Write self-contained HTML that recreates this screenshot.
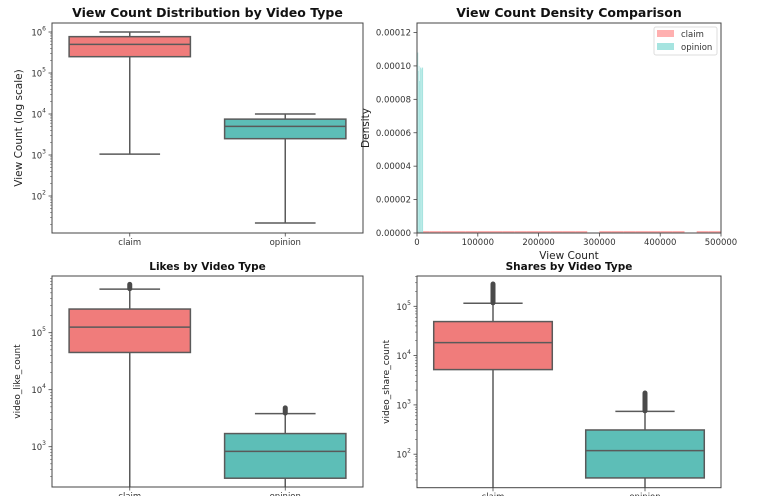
<!DOCTYPE html>
<html><head><meta charset="utf-8"><style>
html,body{margin:0;padding:0;background:#fff;overflow:hidden;width:768px;height:496px;}
svg{display:block;font-family:"DejaVu Sans","Liberation Sans",sans-serif;overflow:hidden;}
</style></head><body>
<svg id="fig" width="768" height="496" viewBox="0 0 768 496" xmlns="http://www.w3.org/2000/svg"></svg>
<script>
// ---------- data ----------
const categories = ["claim", "opinion"];
// box stats: [lowWhisker, Q1, median, Q3, highWhisker, outlierMax]
const viewClaim = [1050, 250000, 500000, 770000, 1000000, null];
const viewOpinion = [22, 2500, 5000, 7500, 10000, null];
const likeClaim = [50, 45000, 125000, 260000, 580000, 720000];
const likeOpinion = [100, 280, 830, 1700, 3800, 4900];
const shareClaim = [10, 5200, 18300, 49000, 115000, 290000];
const shareOpinion = [10, 33, 118, 310, 740, 1780];
const densityBinWidthOpinion = 1000;
const densityOpinion = [0.000088,0.000108,0.000097,0.0001,0.000091,0.000099,0.000099,0.000098,0.000099,0.000099];
const densityBinWidthClaim = 20000;
const densityClaim = [0.0000012,0.0000012,0.0000012,0.0000012,0.0000012,0.0000012,0.0000012,0.0000012,0.0000012,0.0000012,0.0000012,0.0000012,0.0000012,0.0000012,0,0.0000012,0.0000012,0.0000012,0.0000012,0.0000012,0.0000012,0.0000012,0,0.0000012,0.0000012];
const densityTicks = ["0.00000","0.00002","0.00004","0.00006","0.00008","0.00010","0.00012"];
const viewTicksX = ["0","100000","200000","300000","400000","500000"];

const NS = "http://www.w3.org/2000/svg";
const svg = document.getElementById("fig");
function mk(tag, attrs, parent, text){
  const e = document.createElementNS(NS, tag);
  for (const k in attrs) e.setAttribute(k, attrs[k]);
  if (text !== undefined) e.textContent = text;
  (parent || svg).appendChild(e);
  return e;
}
const CLAIM = "#F07C7B", OPIN = "#5DBEB7", EDGE = "#5a5a5a";
const TICKFS = 8.5;

function logAxis(px){
  return v => px.refY - px.perDecade * (Math.log10(v) - px.refExp);
}

function boxPanel(cfg){
  const g = mk("g", {});
  
  
  const {x0,x1,y0,y1} = cfg;
  const Y = logAxis(cfg);
  const clipId = cfg.name + "-clip";
  const cp = mk("clipPath", {id: clipId}, g);
  mk("rect", {x:x0, y:y0, width:x1-x0, height:y1-y0}, cp);
  const plot = mk("g", {"clip-path": "url(#"+clipId+")"}, g);
  const w = x1 - x0;
  const xc = i => x0 + w * (0.25 + 0.5 * i);
  const bw = w * 0.39;
  [cfg.claim, cfg.opinion].forEach((s, i) => {
    const c = xc(i);
    const bg = mk("g", {}, plot);
    
    
    mk("line", {x1:c, x2:c, y1:Y(s[3]), y2:Y(s[4]), stroke:EDGE, "stroke-width":1.5}, bg);
    mk("line", {x1:c, x2:c, y1:Y(s[1]), y2:Y(s[0]), stroke:EDGE, "stroke-width":1.5}, bg);
    mk("line", {x1:c-bw/4, x2:c+bw/4, y1:Y(s[4]), y2:Y(s[4]), stroke:EDGE, "stroke-width":1.5}, bg);
    mk("line", {x1:c-bw/4, x2:c+bw/4, y1:Y(s[0]), y2:Y(s[0]), stroke:EDGE, "stroke-width":1.5}, bg);
    mk("rect", {x:c-bw/2, y:Y(s[3]), width:bw, height:Y(s[1])-Y(s[3]), fill:i?OPIN:CLAIM, stroke:EDGE, "stroke-width":1.5}, bg);
    mk("line", {x1:c-bw/2, x2:c+bw/2, y1:Y(s[2]), y2:Y(s[2]), stroke:EDGE, "stroke-width":1.5}, bg);
    if (s[5]) {
      const o = mk("rect", {x:c-2.5, y:Y(s[5])-2, width:5, height:Y(s[4])-Y(s[5])+4, rx:2.5, fill:"#4a4a4a"}, bg);
      
      
    }
  });
  mk("rect", {x:x0, y:y0, width:w, height:y1-y0, fill:"none", stroke:"#444", "stroke-width":1}, g);
  const loE = Math.floor(cfg.refExp - (y1 - cfg.refY)/cfg.perDecade);
  const hiE = Math.ceil(cfg.refExp + (cfg.refY - y0)/cfg.perDecade);
  for (let e = loE; e <= hiE; e++){
    for (let m = 1; m < 10; m++){
      const y = Y(m * Math.pow(10, e));
      if (y < y0 + 0.5 || y > y1 - 0.5) continue;
      mk("line", {x1:x0, x2:x0-(m===1?3.5:2), y1:y, y2:y, stroke:"#444", "stroke-width":m===1?0.8:0.5}, g);
      if (m === 1){
        const t = mk("text", {x:x0-6, y:y+3.5, "font-size":TICKFS, fill:"#333", "text-anchor":"end"}, g);
        
        
        mk("tspan", {}, t, "10");
        mk("tspan", {"font-size":6, dy:-5}, t, String(e));
      }
    }
  }
  categories.forEach((c, i) => {
    mk("line", {x1:xc(i), x2:xc(i), y1:y1, y2:y1+3.5, stroke:"#444", "stroke-width":0.8}, g);
    const t = mk("text", {x:xc(i), y:y1+12, "font-size":TICKFS, fill:"#333", "text-anchor":"middle"}, g, c);
    
    
  });
  const tt = mk("text", {x:(x0+x1)/2, y:y0-6, "font-size":cfg.titleSize, "font-weight":"bold", fill:"#111", "text-anchor":"middle"}, g, cfg.title);
  
  
  const yl = mk("text", {x:cfg.ylx, y:(y0+y1)/2, "font-size":cfg.ylSize, fill:"#222", "text-anchor":"middle", transform:"rotate(-90 "+cfg.ylx+" "+((y0+y1)/2)+")"}, g, cfg.ylabel);
  
  
}

boxPanel({name:"view-boxplot", x0:52, x1:363, y0:23, y1:233, refY:32, refExp:6, perDecade:41,
  claim:viewClaim, opinion:viewOpinion, title:"View Count Distribution by Video Type", titleSize:12.5,
  ylabel:"View Count (log scale)", ylx:22, ylSize:10.5});
boxPanel({name:"likes-boxplot", x0:52, x1:363, y0:276, y1:487, refY:332.7, refExp:5, perDecade:57,
  claim:likeClaim, opinion:likeOpinion, title:"Likes by Video Type", titleSize:10.5,
  ylabel:"video_like_count", ylx:20, ylSize:9});
boxPanel({name:"shares-boxplot", x0:417, x1:721, y0:276, y1:487.7, refY:306.3, refExp:5, perDecade:49.3,
  claim:shareClaim, opinion:shareOpinion, title:"Shares by Video Type", titleSize:10.5,
  ylabel:"video_share_count", ylx:389, ylSize:9});

// ---------- density histogram ----------
(function(){
  const g = mk("g", {});
  
  
  const x0=417, x1=721, y0=23, y1=233;
  const X = v => x0 + (v/500000)*(x1-x0);
  const Y = v => y1 - (v/0.000120)*(y1-32.5);
  densityClaim.forEach((d, i) => {
    if (!d) return;
    const r = mk("rect", {x:X(i*densityBinWidthClaim), y:Y(d), width:X(densityBinWidthClaim)-x0, height:y1-Y(d), fill:"#FFB0B0"}, g);
    
    
  });
  densityOpinion.forEach((d, i) => {
    const r = mk("rect", {x:X(i*densityBinWidthOpinion), y:Y(d), width:X(densityBinWidthOpinion)-x0, height:y1-Y(d), fill:"#A6E4E0"}, g);
    
    
  });
  mk("rect", {x:x0, y:y0, width:x1-x0, height:y1-y0, fill:"none", stroke:"#444", "stroke-width":1}, g);
  densityTicks.forEach((t, i) => {
    const y = Y(parseFloat(t));
    mk("line", {x1:x0, x2:x0-3.5, y1:y, y2:y, stroke:"#444", "stroke-width":0.8}, g);
    const e = mk("text", {x:x0-6, y:y+3, "font-size":TICKFS, fill:"#333", "text-anchor":"end"}, g, t);
    
    
  });
  viewTicksX.forEach(t => {
    const x = X(parseFloat(t));
    mk("line", {x1:x, x2:x, y1:y1, y2:y1+3.5, stroke:"#444", "stroke-width":0.8}, g);
    const e = mk("text", {x:x, y:y1+12, "font-size":TICKFS, fill:"#333", "text-anchor":"middle"}, g, t);
    
    
  });
  const tt = mk("text", {x:(x0+x1)/2, y:y0-6, "font-size":12.5, "font-weight":"bold", fill:"#111", "text-anchor":"middle"}, g, "View Count Density Comparison");
  
  
  const xl = mk("text", {x:(x0+x1)/2, y:259, "font-size":10.5, fill:"#222", "text-anchor":"middle"}, g, "View Count");
  
  
  const yl = mk("text", {x:369, y:128, "font-size":10.5, fill:"#222", "text-anchor":"middle", transform:"rotate(-90 369 128)"}, g, "Density");
  
  
  const lg = mk("g", {}, g);
  
  
  mk("rect", {x:654, y:27, width:63, height:28, fill:"#fff", stroke:"#ddd", rx:2}, lg);
  mk("rect", {x:657, y:30, width:17, height:7, fill:"#FFB0B0"}, lg);
  mk("rect", {x:657, y:43, width:17, height:7, fill:"#A6E4E0"}, lg);
  const l1 = mk("text", {x:681, y:37, "font-size":8.5, fill:"#333"}, lg, "claim");
  
  
  const l2 = mk("text", {x:681, y:50, "font-size":8.5, fill:"#333"}, lg, "opinion");
  
  
})();
</script>
</body></html>
